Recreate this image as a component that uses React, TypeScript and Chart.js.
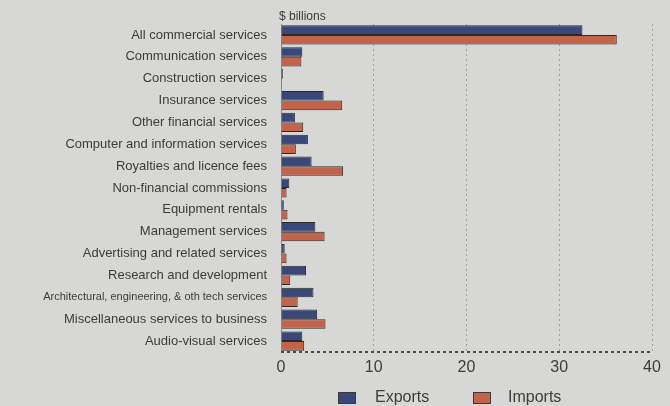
import React, { useEffect, useRef } from "react";
import { Chart, registerables } from "chart.js";

Chart.register(...registerables);

const categories = [
  "All commercial services",
  "Communication services",
  "Construction services",
  "Insurance services",
  "Other financial services",
  "Computer and information services",
  "Royalties and licence fees",
  "Non-financial commissions",
  "Equipment rentals",
  "Management services",
  "Advertising and related services",
  "Research and development",
  "Architectural, engineering, & oth tech services",
  "Miscellaneous services to business",
  "Audio-visual services",
];

const exportsValues = [32.5, 2.3, 0.2, 4.6, 1.5, 2.9, 3.3, 0.9, 0.3, 3.7, 0.4, 2.7, 3.5, 3.9, 2.3];
const importsValues = [36.2, 2.2, 0.1, 6.6, 2.4, 1.6, 6.7, 0.6, 0.7, 4.7, 0.6, 1.0, 1.8, 4.8, 2.5];

const xTicks = [0, 10, 20, 30, 40];
const unitLabel = "$ billions";
const seriesNames = ["Exports", "Imports"];

const BG = "#d7d7d5";
const TEXT = "#3c3c3c";
const EXP_COLOR = "#3a4879";
const IMP_COLOR = "#c2634b";

export default function App() {
  const ref = useRef<HTMLCanvasElement | null>(null);

  useEffect(() => {
    document.body.style.margin = "0";
    document.body.style.background = BG;
    const canvas = ref.current;
    if (!canvas) return;

    const bgPlugin = {
      id: "bg",
      beforeDraw(chart: any) {
        const ctx = chart.ctx;
        ctx.save();
        ctx.fillStyle = BG;
        ctx.fillRect(0, 0, chart.width, chart.height);
        ctx.restore();
      },
    };

    const extrasPlugin = {
      id: "extras",
      beforeDatasetsDraw(chart: any) {
        const ctx = chart.ctx;
        const area = chart.chartArea;
        ctx.save();
        ctx.strokeStyle = "#4a4a4a";
        ctx.lineWidth = 2;
        ctx.setLineDash([3, 3]);
        ctx.beginPath();
        ctx.moveTo(area.left, area.bottom);
        ctx.lineTo(area.right, area.bottom);
        ctx.stroke();
        ctx.restore();
      },
      afterDraw(chart: any) {
        const ctx = chart.ctx;
        const area = chart.chartArea;
        ctx.save();
        ctx.fillStyle = TEXT;
        ctx.font = "12px 'Liberation Sans', Arial, sans-serif";
        ctx.textAlign = "left";
        ctx.textBaseline = "middle";
        ctx.fillText(unitLabel, area.left - 2, 17);

        // legend
        const colors = [EXP_COLOR, IMP_COLOR];
        const boxX = [338, 473];
        const textX = [375, 508];
        const y = 398;
        ctx.font = "16px 'Liberation Sans', Arial, sans-serif";
        for (let i = 0; i < seriesNames.length; i++) {
          ctx.fillStyle = colors[i];
          ctx.fillRect(boxX[i], y - 6, 18, 12);
          ctx.strokeStyle = "#3a3a3a";
          ctx.lineWidth = 1;
          ctx.strokeRect(boxX[i] + 0.5, y - 5.5, 17, 11);
          ctx.fillStyle = TEXT;
          ctx.fillText(seriesNames[i], textX[i], y);
        }
        ctx.restore();
      },
    };

    const chart = new Chart(canvas, {
      type: "bar",
      data: {
        labels: categories,
        datasets: [
          {
            label: seriesNames[0],
            data: exportsValues,
            backgroundColor: EXP_COLOR,
            borderColor: "#2a2a2a",
            borderWidth: 1,
            barPercentage: 1,
            categoryPercentage: 0.88,
          },
          {
            label: seriesNames[1],
            data: importsValues,
            backgroundColor: IMP_COLOR,
            borderColor: "#2a2a2a",
            borderWidth: 1,
            barPercentage: 1,
            categoryPercentage: 0.88,
          },
        ],
      },
      options: {
        indexAxis: "y",
        animation: false,
        responsive: false,
        maintainAspectRatio: false,
        layout: { padding: { top: 24, right: 18, bottom: 24, left: 0 } },
        plugins: {
          legend: { display: false },
          tooltip: { enabled: false },
        },
        scales: {
          x: {
            min: 0,
            max: 40,
            afterBuildTicks(scale: any) {
              scale.ticks = xTicks.map((v) => ({ value: v }));
            },
            afterFit(scale: any) {
              scale.height = 30;
            },
            grid: {
              color: "#a0a0a0",
              drawTicks: false,
            },
            border: { display: false, dash: [2, 3] },
            ticks: {
              color: TEXT,
              font: { size: 16, family: "'Liberation Sans', Arial, sans-serif" },
              padding: 6,
              maxRotation: 0,
            },
          },
          y: {
            afterFit(scale: any) {
              scale.width = 281;
            },
            grid: { display: false, drawTicks: false },
            border: { display: true, color: "#8a8a8a", dash: [2, 3] },
            ticks: {
              color: TEXT,
              autoSkip: false,
              padding: 14,
              font: (ctx: any) => ({
                size: ctx.index === 12 ? 11 : 13,
                family: "'Liberation Sans', Arial, sans-serif",
              }),
            },
          },
        },
      },
      plugins: [bgPlugin, extrasPlugin],
    } as any);

    return () => chart.destroy();
  }, []);

  return (
    <div style={{ width: 670, height: 406, background: BG }}>
      <canvas ref={ref} width={670} height={406} style={{ display: "block" }} />
    </div>
  );
}
